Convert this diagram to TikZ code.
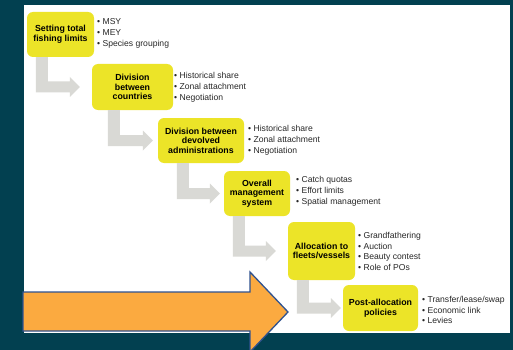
\documentclass[tikz,border=0pt]{standalone}
\usepackage{fontspec}
\setmainfont{Liberation Sans}
\usetikzlibrary{calc}
\definecolor{bgteal}{RGB}{2,64,80}
\definecolor{boxyellow}{RGB}{236,228,40}
\definecolor{arrowgray}{RGB}{217,217,213}
\definecolor{bigorange}{RGB}{251,170,64}
\definecolor{bigblue}{RGB}{47,82,143}
\definecolor{bultext}{RGB}{40,40,40}
\tikzset{
  stagebox/.style={fill=boxyellow, rounded corners=6pt, align=center, inner sep=0pt,
    font=\fontsize{8.8}{9.6}\selectfont\bfseries, text=black},
  bulletlist/.style={anchor=west, align=left, inner sep=0pt,
    font=\fontsize{8.6}{10.8}\selectfont, text=bultext},
}
% L-shaped gray block arrow from box #1 to box #2; #3 = offset of vertical bar from left of #1, #4 = gap before #2
\newcommand\larrow[4]{%
  \fill[arrowgray] let \p1=(#1.south west), \p2=(#2.west) in
    (\x1+#3pt,\y1) -- (\x1+#3pt+12pt,\y1) -- (\x1+#3pt+12pt,\y2+5.5pt)
    -- (\x2-#4pt-10pt,\y2+5.5pt) -- (\x2-#4pt-10pt,\y2+10pt) -- (\x2-#4pt,\y2)
    -- (\x2-#4pt-10pt,\y2-10pt) -- (\x2-#4pt-10pt,\y2-5.5pt) -- (\x1+#3pt,\y2-5.5pt) -- cycle;
}
\begin{document}
\begin{tikzpicture}[x=1pt,y=-1pt]
\fill[bgteal] (0,0) rectangle (513,350);
\useasboundingbox (0,0) rectangle (513,350);
\fill[white] (24,5) rectangle (510,333);

\node[stagebox, minimum width=67pt, minimum height=45pt] (b1) at (60.5,34.5) {Setting total\\fishing limits};
\node[stagebox, minimum width=81pt, minimum height=46pt] (b2) at (132.5,87) {Division\\between\\countries};
\node[stagebox, minimum width=86pt, minimum height=45pt] (b3) at (201,140.5) {Division between\\devolved\\administrations};
\node[stagebox, minimum width=66pt, minimum height=45pt] (b4) at (257,193.5) {Overall\\management\\system};
\node[stagebox, minimum width=67pt, minimum height=58pt] (b5) at (321.5,251) {Allocation to\\fleets/vessels};
\node[stagebox, minimum width=75pt, minimum height=46pt] (b6) at (380.5,308) {Post-allocation\\policies};

\larrow{b1}{b2}{9}{12}
\larrow{b2}{b3}{16}{5}
\larrow{b3}{b4}{19}{4}
\larrow{b4}{b5}{9}{12}
\larrow{b5}{b6}{9}{2}

\node[bulletlist] (l1) at (97,33.5) {• MSY\\• MEY\\• Species grouping};
\node[bulletlist] (l2) at (174,87) {• Historical share\\• Zonal attachment\\• Negotiation};
\node[bulletlist] (l3) at (248,140) {• Historical share\\• Zonal attachment\\• Negotiation};
\node[bulletlist] (l4) at (296,191) {• Catch quotas\\• Effort limits\\• Spatial management};
\node[bulletlist] (l5) at (358,251.5) {• Grandfathering\\• Auction\\• Beauty contest\\• Role of POs};
\node[bulletlist] (l6) at (422,310) {• Transfer/lease/swap\\• Economic link\\• Levies};

\draw[bigblue, line width=1.3pt, fill=bigorange, line join=miter]
  (23,292) -- (250,292) -- (250,272) -- (288,312) -- (250,352) -- (250,331) -- (23,331) -- cycle;
\end{tikzpicture}
\end{document}
